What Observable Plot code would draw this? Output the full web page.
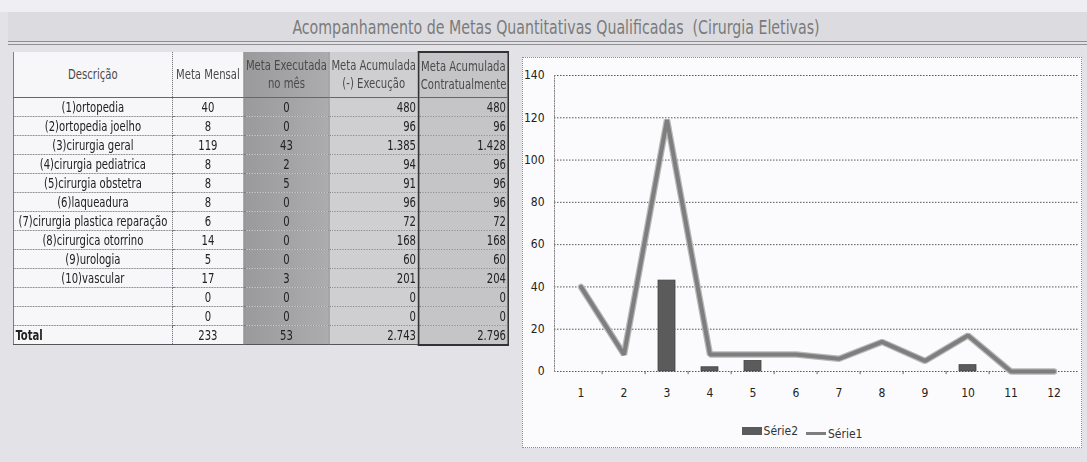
<!DOCTYPE html>
<html>
<head>
<meta charset="utf-8">
<script src="https://cdn.jsdelivr.net/npm/d3@7"></script>
<script src="https://cdn.jsdelivr.net/npm/@observablehq/plot@0.6"></script>
<style>
  html, body { margin: 0; padding: 0; }
  body {
    width: 1087px; height: 462px; position: relative; overflow: hidden;
    background: #e3e3e7;
    font-family: "Liberation Sans Narrow", "DejaVu Sans Condensed", "Roboto", sans-serif;
  }
  #topband { position: absolute; left: 0; top: 0; width: 1087px; height: 12px; background: #efeff3; }
  #titlebar { position: absolute; left: 8px; top: 12px; width: 1079px; height: 30px; background: #dcdce0; }
  #title { position: absolute; left: 556px; top: 16px; white-space: nowrap; font-size: 19px; color: #7a7a7a;
           transform: translateX(-50%) scaleX(0.83); transform-origin: 50% 0; }
  #rule { position: absolute; left: 8px; top: 41px; width: 1079px; height: 2px; border-top: 1px solid #8f8f93; border-bottom: 1px solid #8f8f93; }
  #tbl { position: absolute; left: 13px; top: 51px; border-collapse: collapse; table-layout: fixed; font-size: 14px; color: #222;
         transform: scaleX(0.8); transform-origin: 0 0; }
  #tbl td { height: 19px; padding: 0 2px; line-height: 18px; white-space: nowrap; overflow: hidden;
            border-bottom: 1px dotted #7a7a7a; box-sizing: border-box; }
  #tbl thead td { height: 45px; line-height: 18px; border-bottom: 1px solid #666; text-align: center; color: #4a4a4a; }
  .hatch { background: repeating-linear-gradient(45deg, #e6e6e8 0 2px, #d3d3d5 2px 3px); }
  .c0 { background: #f7f7f9; text-align: center; border-left: 1px solid #666; border-right: 1px dotted #666; }
  .c1 { background: #f7f7f9; text-align: center; }
  .c2 { background: linear-gradient(90deg, #9a9a9c, #acacae); text-align: center; border-left: 1px solid #888; }
  .c3 { background: #cfcfd1; text-align: right; border-left: 1px solid #999; }
  .c4 { background: #c5c5c7; text-align: right; border-left: 2px solid #333; border-right: 2px solid #333; }
  #tbl thead .c4 { border-top: 2px solid #333; }
  #tbl tr.total td { border-bottom: 1px solid #555; }
  #tbl tr.total td.c4 { border-bottom: 2px solid #333; }
  #tbl tr.total td.c0 { text-align: left; font-weight: bold; }
  #chartbox { position: absolute; left: 522px; top: 57px; width: 558px; height: 389px; background: #fbfbfd; border: 1px dotted #8a8a8a; }
  #legend { position: absolute; left: 0; top: 366px; width: 558px; text-align: center; font-size: 12px; color: #333; }
  #legend span.item { display: inline-flex; align-items: center; margin: 0 4px; }
  #legend .sw-bar { display: inline-block; width: 20px; height: 8px; background: #5b5b5b; margin-right: 2px; }
  #legend .sw-line { display: inline-block; width: 20px; height: 3px; background: #7e7e7e; margin-right: 2px; }
</style>
</head>
<body>
<div id="topband"></div>
<div id="titlebar"></div>
<div id="title">Acompanhamento de Metas Quantitativas Qualificadas&nbsp; (Cirurgia Eletivas)</div>
<div id="rule"></div>
<table id="tbl"></table>
<div id="chartbox"></div>
<script>
// ---- Table data ----
const descricao = ["(1)ortopedia", "(2)ortopedia joelho", "(3)cirurgia geral", "(4)cirurgia pediatrica",
  "(5)cirurgia obstetra", "(6)laqueadura", "(7)cirurgia plastica reparação", "(8)cirurgica otorrino",
  "(9)urologia", "(10)vascular", "", ""];
const metaMensal = [40, 8, 119, 8, 8, 8, 6, 14, 5, 17, 0, 0];
const metaExecutada = [0, 0, 43, 2, 5, 0, 0, 0, 0, 3, 0, 0];
const acumExecucao = [480, 96, 1385, 94, 91, 96, 72, 168, 60, 201, 0, 0];
const acumContrato = [480, 96, 1428, 96, 96, 96, 72, 168, 60, 204, 0, 0];
const headers = ["Descrição", "Meta Mensal", "Meta Executada<br>no mês", "Meta Acumulada<br>(-) Execução", "Meta Acumulada<br>Contratualmente"];
const colWidths = [159, 71, 86, 89, 90];

// ---- Chart data ----
const categorias = ["1", "2", "3", "4", "5", "6", "7", "8", "9", "10", "11", "12"];
const serie1 = [40, 8, 119, 8, 8, 8, 6, 14, 5, 17, 0, 0];
const serie2 = [0, 0, 43, 2, 5, 0, 0, 0, 0, 3, 0, 0];
const yTicks = [0, 20, 40, 60, 80, 100, 120, 140];

const FONT = '"Liberation Sans Narrow", "DejaVu Sans Condensed", sans-serif';
const SX = 0.8;
const fmt = n => String(n).replace(/\B(?=(\d{3})+(?!\d))/g, ".");

// build table
const tbl = document.getElementById("tbl");
tbl.style.width = (d3.sum(colWidths) / SX) + "px";
const colgroup = document.createElement("colgroup");
colWidths.forEach(w => { const c = document.createElement("col"); c.style.width = (w / SX) + "px"; colgroup.appendChild(c); });
tbl.appendChild(colgroup);
const thead = document.createElement("thead");
const htr = document.createElement("tr");
headers.forEach((h, j) => {
  const td = document.createElement("td");
  td.className = "c" + j + (j === 1 ? "" : " hatch");
  if (j === 1) td.style.background = "#f7f7f9";
  td.innerHTML = h;
  htr.appendChild(td);
});
thead.appendChild(htr);
tbl.appendChild(thead);
const tbody = document.createElement("tbody");
const addRow = (vals, cls) => {
  const tr = document.createElement("tr");
  if (cls) tr.className = cls;
  vals.forEach((v, j) => {
    const td = document.createElement("td");
    td.className = "c" + j;
    td.textContent = v;
    tr.appendChild(td);
  });
  tbody.appendChild(tr);
};
descricao.forEach((d, i) => addRow([d, metaMensal[i], metaExecutada[i], fmt(acumExecucao[i]), fmt(acumContrato[i])]));
addRow(["Total", d3.sum(metaMensal), d3.sum(metaExecutada), fmt(d3.sum(acumExecucao)), fmt(d3.sum(acumContrato))], "total");
tbl.appendChild(tbody);

// build chart
const rows = categorias.map((c, i) => ({cat: c, s1: serie1[i], s2: serie2[i]}));
const W = 558, H = 355, ML = 31, MR = 2;
const bw = (W - ML - MR) / categorias.length;
const chart = Plot.plot({
  width: W, height: H,
  marginLeft: ML, marginRight: MR, marginTop: 17, marginBottom: 42,
  style: {background: "transparent", fontFamily: FONT, fontSize: "12px", color: "#222", overflow: "visible"},
  x: {type: "band", domain: categorias, padding: 0, label: null},
  y: {domain: [0, 140], label: null},
  marks: [
    Plot.gridY(yTicks, {stroke: "#555", strokeOpacity: 1, strokeDasharray: "1.5,1.5"}),
    Plot.frame({anchor: "left", stroke: "#888", strokeDasharray: "1,1.5"}),
    Plot.ruleX(categorias.slice(1), {x: d => d, y1: 0, y2: -1.5, stroke: "#666", dx: -bw / 2}),
    Plot.barY(rows, {x: "cat", y: "s2", fill: "#5b5b5b", stroke: "#444", strokeWidth: 0.8, insetLeft: 13, insetRight: 13}),
    Plot.line(rows, {x: "cat", y: "s1", stroke: "#b8b8b8", strokeWidth: 6.5, strokeLinejoin: "miter"}),
    Plot.line(rows, {x: "cat", y: "s1", stroke: "#7e7e7e", strokeWidth: 4, strokeLinejoin: "miter"}),
    Plot.axisY(yTicks, {tickSize: 0, tickPadding: 10, fontSize: 12}),
    Plot.axisX({tickSize: 0, tickPadding: 17, fontSize: 12})
  ]
});
const box = document.getElementById("chartbox");
box.appendChild(chart);
const legend = document.createElement("div");
legend.id = "legend";
legend.innerHTML = '<span class="item"><span class="sw-bar"></span>Série2</span>' +
                   '<span class="item"><span class="sw-line"></span>Série1</span>';
box.appendChild(legend);
</script>
</body>
</html>
